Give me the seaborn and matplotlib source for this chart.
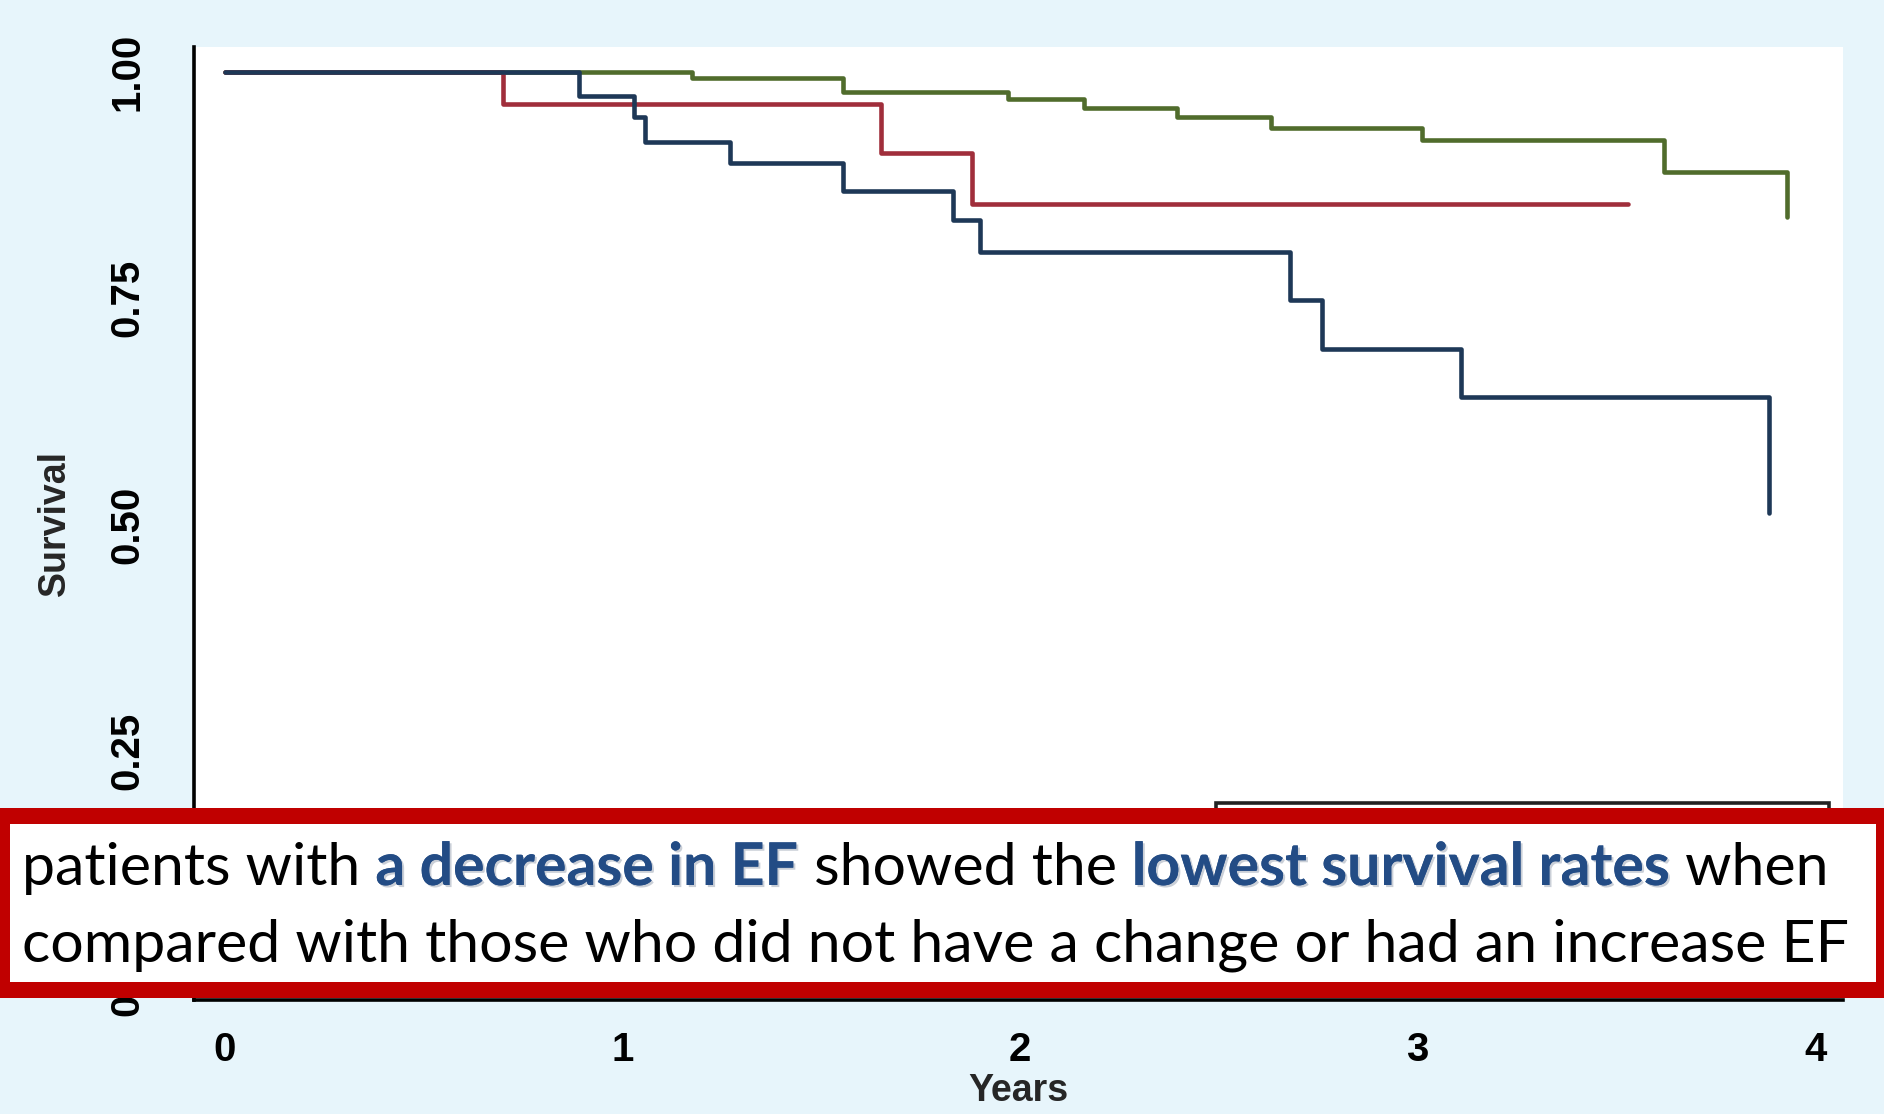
import matplotlib
matplotlib.use("Agg")
import matplotlib.pyplot as plt
import matplotlib.patheffects as pe
from matplotlib.patches import Rectangle
import numpy as np
import pandas as pd
import seaborn as sns

# Kaplan-Meier survival estimates by change in ejection fraction
groups = ["EF increase", "No change in EF", "EF decrease"]
colors = ["#506C2C", "#A02E3B", "#1E3857"]

time_increase = [0, 1.175, 1.555, 1.97, 2.16, 2.395, 2.63, 3.01, 3.62, 3.93]
surv_increase = [1.0, 0.993, 0.978, 0.970, 0.960, 0.950, 0.938, 0.925, 0.889, 0.840]

time_nochange = [0, 0.70, 1.65, 1.88, 3.53]
surv_nochange = [1.0, 0.965, 0.911, 0.854, 0.854]

time_decrease = [0, 0.89, 1.03, 1.057, 1.27, 1.555, 1.83, 1.90, 2.68, 2.76, 3.11, 3.885]
surv_decrease = [1.0, 0.973, 0.950, 0.923, 0.899, 0.868, 0.836, 0.801, 0.748, 0.694, 0.641, 0.513]

x_ticks = [0, 1, 2, 3, 4]
y_ticks = [0.0, 0.25, 0.50, 0.75, 1.00]
y_tick_labels = ["0.00", "0.25", "0.50", "0.75", "1.00"]

caption_line1 = [("patients with ", False), ("a decrease in EF", True), (" showed the ", False),
                 ("lowest survival rates", True), (" when", False)]
caption_line2 = "compared with those who did not have a change or had an increase EF"

frames = []
for g, t, s in zip(groups, [time_increase, time_nochange, time_decrease],
                   [surv_increase, surv_nochange, surv_decrease]):
    frames.append(pd.DataFrame({"Years": t, "Survival": s, "group": g}))
df = pd.concat(frames, ignore_index=True)

sns.set_theme(style="white")
plt.rcParams["font.family"] = ["Liberation Sans", "DejaVu Sans"]

W, H = 1884, 1114
fig = plt.figure(figsize=(W / 100, H / 100), dpi=100)
bg = "#E7F5FB"
fig.patch.set_facecolor(bg)

ax = fig.add_axes([194 / W, 1 - 1000 / H, (1843 - 194) / W, (1000 - 47) / H])
ax.set_facecolor("white")

sns.lineplot(data=df, x="Years", y="Survival", hue="group", hue_order=groups,
             palette=colors, drawstyle="steps-post", sort=False, estimator=None,
             linewidth=3.3, ax=ax, legend=False)

ax.set_xlim(-0.078, 4.070)
ax.set_ylim(-0.0251, 1.0276)
ax.set_xticks(x_ticks)
ax.set_yticks(y_ticks)
ax.set_yticklabels(y_tick_labels, rotation=90, va="center")
for lab in ax.get_xticklabels() + ax.get_yticklabels():
    lab.set_fontweight("bold")
for side in ["top", "right"]:
    ax.spines[side].set_visible(False)
for side in ["left", "bottom"]:
    ax.spines[side].set_color("black")
    ax.spines[side].set_linewidth(2.6)
ax.tick_params(axis="both", direction="out", length=14, width=2.2, color="black",
               labelsize=29, labelcolor="black")
ax.tick_params(axis="y", pad=20)
ax.tick_params(axis="x", pad=8)
ax.set_xlabel("Years", fontsize=27, fontweight="bold", labelpad=3)
ax.set_ylabel("Survival", fontsize=27, fontweight="bold", labelpad=26)

# legend frame in the lower right of the plot region
fig.patches.append(Rectangle((1216 / W, 1 - 960 / H), 613 / W, (960 - 803) / H,
                             transform=fig.transFigure, facecolor="white",
                             edgecolor="#222222", linewidth=2.6, zorder=2))

# caption box
fig.patches.append(Rectangle((0, 1 - 998 / H), 1, (998 - 808) / H, transform=fig.transFigure,
                             facecolor="#C00000", edgecolor="none", zorder=10))
fig.patches.append(Rectangle((10 / W, 1 - 982 / H), (1876 - 10) / W, (982 - 824) / H,
                             transform=fig.transFigure, facecolor="white",
                             edgecolor="none", zorder=11))

cap_font = ["Lato", "DejaVu Sans"]
renderer = fig.canvas.get_renderer()
t2 = fig.text(22 / W, 1 - 962 / H, caption_line2, fontsize=40, family=cap_font,
              color="black", va="baseline", ha="left", zorder=12)
w2 = t2.get_window_extent(renderer=renderer).width
fs = 40 * (1823 / w2)
t2.set_fontsize(fs)

x = 22
for piece, bold in caption_line1:
    kw = dict(fontsize=fs, family=cap_font, va="baseline", ha="left", zorder=12)
    if bold:
        kw.update(fontweight="bold", color="#234C85",
                  path_effects=[pe.withSimplePatchShadow(offset=(1.5, -1.5),
                                                         shadow_rgbFace="#8A96A8", alpha=0.45),
                                pe.Normal()])
    else:
        kw.update(color="black")
    # non-breaking spaces keep the word gaps in the measured width
    txt = fig.text(x / W, 1 - 885 / H, piece.replace(" ", "\u00a0"), **kw)
    x = txt.get_window_extent(renderer=renderer).x1

fig.savefig("out.png", dpi=100, facecolor=fig.get_facecolor())
